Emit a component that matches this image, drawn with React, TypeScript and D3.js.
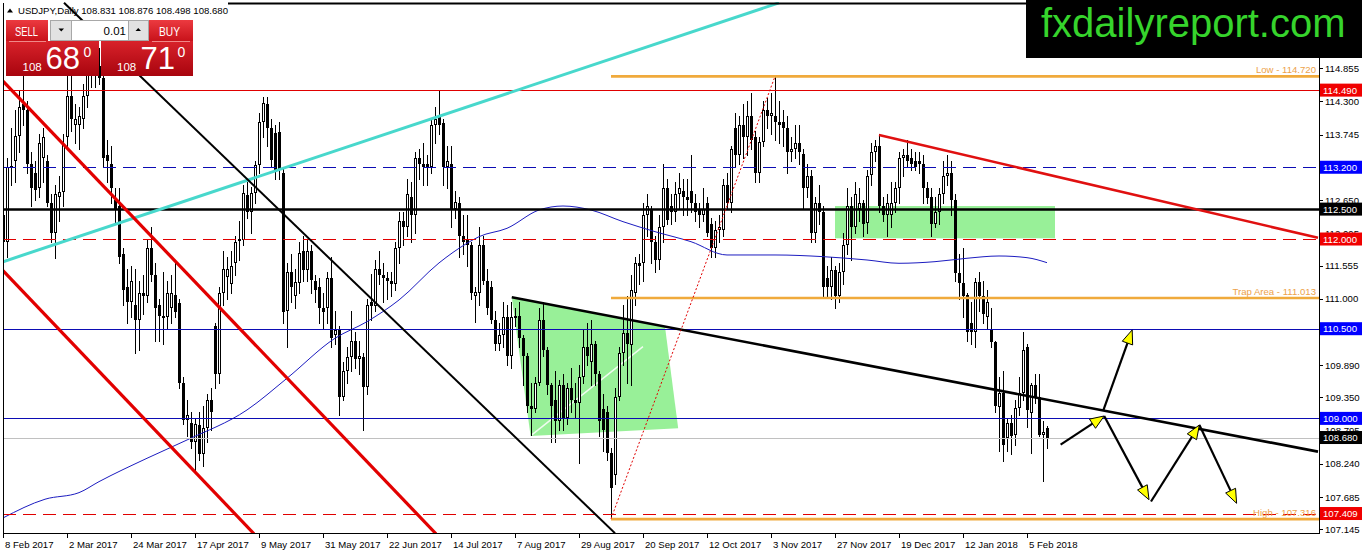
import * as d3 from "d3";

// USDJPY daily, 8 Feb 2017 (bar 0) .. 12 Feb 2018 (bar 261): [open, high, low, close]
const ohlc: [number, number, number, number][] = [
  // Feb 2017
  [112.40, 112.55, 111.58, 111.95], [111.95, 113.35, 111.70, 113.20], [113.20, 113.85, 112.90, 113.22],
  [113.30, 114.15, 112.95, 113.72], [113.72, 114.50, 113.45, 114.20], [114.25, 114.95, 113.90, 114.15],
  [114.15, 114.30, 113.10, 113.25], [113.25, 113.45, 112.55, 112.85], [113.10, 113.30, 112.65, 112.82],
  [112.85, 113.75, 112.70, 113.60], [113.35, 113.85, 112.95, 113.70], [113.30, 113.40, 112.55, 112.60],
  [112.60, 112.75, 111.95, 112.10], [112.10, 112.90, 111.68, 112.75], [112.70, 113.05, 112.30, 112.78],
  // Mar
  [112.78, 113.75, 112.55, 113.57], [113.70, 114.75, 113.50, 114.40], [114.40, 114.75, 113.80, 114.00],
  [113.90, 114.25, 113.60, 114.00], [113.90, 114.20, 113.50, 114.05], [114.00, 114.60, 113.85, 114.40],
  [114.40, 115.25, 114.20, 115.05], [115.05, 115.50, 114.55, 114.80], [114.80, 115.10, 114.55, 114.90],
  [114.90, 115.20, 114.60, 114.70], [114.70, 115.00, 113.20, 113.35], [113.40, 113.65, 112.95, 113.30],
  [113.25, 113.55, 112.60, 112.85], [112.65, 112.85, 112.25, 112.50], [112.55, 112.85, 111.60, 111.70],
  [111.75, 111.85, 110.90, 111.15], [111.20, 111.50, 110.60, 110.95], [110.95, 111.55, 110.70, 111.30],
  [110.90, 111.50, 110.10, 110.65], [110.65, 111.30, 110.15, 111.10], [111.10, 111.40, 110.75, 111.05],
  [111.05, 112.00, 110.95, 111.85], [111.85, 112.20, 111.30, 111.40],
  // Apr
  [111.40, 111.60, 110.30, 110.85], [110.90, 111.00, 110.30, 110.72], [110.72, 111.45, 110.25, 110.68],
  [110.70, 111.30, 110.50, 111.10], [110.85, 111.40, 110.60, 111.10], [111.06, 111.60, 110.70, 110.78],
  [110.93, 111.00, 109.50, 109.60], [109.60, 109.70, 108.90, 108.97], [108.97, 109.30, 108.70, 109.05],
  [108.92, 109.10, 108.50, 108.60], [108.60, 109.00, 108.13, 108.90], [108.89, 109.10, 108.30, 108.40],
  [108.40, 109.20, 108.20, 108.84], [108.84, 109.40, 108.60, 109.30], [109.30, 109.50, 108.80, 109.10],
  [110.55, 110.60, 109.50, 109.75], [109.75, 111.20, 109.60, 111.10], [111.10, 111.80, 110.90, 111.50],
  [111.36, 111.70, 111.00, 111.50], [111.25, 111.80, 111.10, 111.55],
  // May
  [111.60, 112.05, 111.40, 111.95], [111.98, 112.30, 111.65, 112.00], [111.98, 112.90, 111.90, 112.77],
  [112.73, 112.95, 112.35, 112.45], [112.45, 112.87, 112.10, 112.77], [112.77, 113.30, 112.60, 113.24],
  [113.24, 114.10, 113.10, 113.96], [113.96, 114.37, 113.70, 114.27], [114.25, 114.37, 113.55, 113.86],
  [113.86, 114.00, 113.20, 113.32], [113.77, 113.90, 113.00, 113.12], [113.79, 113.95, 113.00, 113.15],
  [113.10, 113.20, 110.60, 110.78], [110.80, 111.60, 110.20, 111.45], [111.45, 111.75, 110.95, 111.20],
  [111.05, 111.50, 110.85, 111.28], [111.27, 111.95, 111.10, 111.77], [111.80, 112.05, 111.30, 111.48],
  [111.48, 112.00, 111.30, 111.80], [111.80, 111.90, 111.10, 111.32], [111.30, 111.40, 110.95, 111.15],
  [111.20, 111.35, 110.60, 110.85], [110.85, 111.10, 110.50, 110.78],
  // Jun
  [110.85, 111.45, 110.60, 111.35], [111.35, 111.70, 110.20, 110.35], [110.40, 110.80, 110.25, 110.48],
  [110.48, 110.55, 109.06, 109.36], [109.36, 109.95, 109.30, 109.80], [109.80, 110.20, 109.60, 110.02],
  [110.02, 110.80, 109.80, 110.30], [110.30, 110.45, 109.85, 110.00], [110.00, 110.30, 109.75, 110.05],
  [110.02, 110.10, 108.80, 109.52], [109.52, 111.00, 109.40, 110.90], [110.95, 111.42, 110.65, 110.88],
  [110.88, 111.65, 110.80, 111.50], [111.50, 111.80, 111.25, 111.40], [111.40, 111.60, 110.95, 111.35],
  [111.35, 111.45, 111.00, 111.30], [111.30, 111.45, 111.05, 111.25], [111.25, 111.95, 111.15, 111.85],
  [111.85, 112.45, 111.60, 112.30], [112.30, 112.45, 111.90, 112.20], [112.20, 113.00, 112.05, 112.75],
  [112.70, 112.95, 111.95, 112.40],
  // Jul
  [112.40, 113.45, 112.10, 113.35], [113.35, 113.50, 113.00, 113.25], [113.25, 113.60, 112.90, 113.20],
  [113.25, 113.40, 112.90, 113.18], [113.20, 114.00, 113.10, 113.90], [113.90, 114.20, 113.60, 114.00],
  [114.05, 114.49, 113.75, 113.90], [113.94, 114.00, 112.90, 113.20], [113.20, 113.55, 112.85, 113.30],
  [113.25, 113.55, 112.20, 112.50], [112.50, 112.80, 112.35, 112.62], [112.60, 112.70, 111.70, 112.05],
  [112.05, 112.40, 111.75, 111.95], [112.00, 112.40, 111.55, 111.90], [111.90, 111.95, 111.00, 111.10],
  [111.05, 111.20, 110.62, 111.12], [111.10, 112.20, 110.90, 111.90], [111.90, 112.05, 111.25, 111.30],
  [111.30, 111.50, 110.75, 110.85], [111.20, 111.30, 110.60, 110.65], [110.65, 110.80, 110.15, 110.25],
  // Aug
  [110.25, 110.60, 110.15, 110.40], [110.40, 110.95, 110.20, 110.70], [110.70, 110.90, 109.90, 110.05],
  [110.05, 110.95, 109.85, 110.70], [110.70, 110.85, 110.55, 110.72], [110.72, 110.95, 110.20, 110.35],
  [110.35, 110.40, 109.55, 110.05], [110.05, 110.10, 109.10, 109.20], [109.20, 109.60, 108.73, 109.15],
  [109.15, 109.70, 109.10, 109.60], [109.60, 110.85, 109.55, 110.65], [110.65, 110.95, 110.05, 110.15],
  [110.15, 110.20, 109.40, 109.55], [109.55, 109.60, 108.60, 109.20], [109.30, 109.80, 108.60, 108.95],
  [108.95, 109.65, 108.80, 109.55], [109.55, 109.75, 108.80, 109.00], [109.00, 109.60, 108.90, 109.50],
  [109.50, 109.85, 109.10, 109.30], [109.30, 109.60, 109.00, 109.25], [109.25, 109.90, 108.26, 109.70],
  [109.70, 110.50, 109.60, 110.20], [110.20, 110.60, 109.90, 110.05],
  // Sep
  [109.95, 110.65, 109.55, 110.25], [110.25, 110.30, 109.55, 109.75], [109.75, 109.80, 108.70, 108.95],
  [109.15, 109.40, 108.45, 108.80], [109.10, 109.20, 108.30, 108.42], [108.42, 108.50, 107.32, 107.84],
  [108.05, 109.50, 107.90, 109.36], [109.36, 110.20, 109.30, 110.10], [110.10, 110.90, 109.90, 110.42],
  [110.42, 111.05, 109.60, 110.25], [110.23, 111.40, 109.55, 111.15], [111.10, 111.70, 110.90, 111.60],
  [111.60, 111.75, 111.25, 111.55], [111.60, 112.60, 111.30, 112.40], [112.40, 112.75, 112.05, 112.55],
  [112.50, 112.55, 111.60, 111.95], [111.95, 112.05, 111.45, 111.65], [111.65, 112.40, 111.50, 112.20],
  [112.20, 113.25, 111.95, 112.85], [112.85, 113.00, 112.25, 112.32], [112.55, 112.75, 112.25, 112.45],
  // Oct
  [112.45, 112.95, 112.30, 112.75], [112.75, 113.10, 112.50, 112.85], [112.80, 113.00, 112.40, 112.70],
  [112.70, 113.00, 112.40, 112.65], [112.80, 113.40, 112.45, 112.60], [112.60, 112.75, 112.30, 112.45],
  [112.50, 112.60, 112.20, 112.40], [112.40, 112.85, 112.30, 112.50], [112.60, 112.70, 112.05, 112.10],
  [112.25, 112.35, 111.70, 111.85], [111.85, 112.30, 111.70, 112.15], [112.15, 112.40, 111.95, 112.20],
  [112.15, 113.00, 112.05, 112.90], [112.90, 113.10, 112.50, 112.60], [112.60, 113.55, 112.45, 113.50],
  [113.85, 114.10, 113.20, 113.40], [113.40, 114.05, 113.25, 113.90], [113.90, 114.25, 113.35, 113.70],
  [113.70, 114.30, 113.40, 114.05], [114.05, 114.45, 113.50, 113.65], [113.70, 113.80, 112.95, 113.10],
  [113.10, 113.70, 112.95, 113.62],
  // Nov
  [113.62, 114.30, 113.55, 114.15], [114.15, 114.35, 113.85, 114.05], [114.05, 114.45, 113.75, 114.10],
  [114.05, 114.72, 113.65, 113.95], [113.95, 114.30, 113.60, 113.90], [113.95, 114.15, 113.55, 113.85],
  [113.86, 114.05, 113.10, 113.45], [113.45, 113.70, 113.30, 113.50], [113.50, 113.90, 113.35, 113.60],
  [113.60, 113.90, 113.25, 113.45], [113.43, 113.50, 112.50, 112.85], [112.85, 113.25, 112.70, 113.05],
  [113.05, 113.15, 111.95, 112.10], [112.10, 112.70, 111.95, 112.60], [112.60, 112.90, 112.25, 112.45],
  [112.45, 112.55, 111.05, 111.20], [111.35, 111.55, 111.05, 111.20], [111.20, 111.70, 111.00, 111.48],
  [111.48, 111.55, 110.84, 111.05], [111.05, 111.60, 110.95, 111.45], [111.45, 112.10, 111.25, 111.90],
  [111.90, 112.85, 111.75, 112.55],
  // Dec
  [112.55, 112.70, 111.65, 112.20], [112.20, 112.95, 112.10, 112.75], [112.50, 112.85, 112.30, 112.60],
  [112.60, 112.65, 112.05, 112.25], [112.27, 113.15, 112.10, 113.05], [113.07, 113.60, 112.90, 113.45],
  [113.45, 113.65, 113.30, 113.55], [113.55, 113.75, 112.45, 112.55], [112.55, 112.70, 112.30, 112.40],
  [112.40, 112.75, 112.05, 112.60], [112.40, 112.95, 112.20, 112.60], [112.60, 112.95, 112.45, 112.85],
  [112.85, 113.45, 112.60, 113.35], [113.35, 113.50, 113.05, 113.40], [113.40, 113.65, 113.20, 113.30],
  [113.35, 113.50, 113.15, 113.25], [113.30, 113.45, 113.15, 113.20], [113.30, 113.45, 113.10, 113.25],
  [113.25, 113.40, 112.60, 112.85], [112.85, 112.95, 112.60, 112.68],
  // Jan 2018
  [112.70, 112.85, 112.05, 112.25], [112.25, 112.70, 112.20, 112.45], [112.45, 112.85, 112.25, 112.75],
  [112.75, 113.30, 112.60, 113.05], [113.05, 113.40, 112.90, 113.10], [113.10, 113.30, 112.40, 112.65],
  [112.65, 112.75, 111.30, 111.43], [111.43, 111.75, 111.00, 111.26], [111.26, 111.85, 110.70, 111.05],
  [111.06, 111.10, 110.30, 110.45], [110.60, 110.95, 110.25, 110.45], [110.45, 111.35, 110.20, 111.28],
  [111.28, 111.45, 110.80, 111.05], [111.05, 111.30, 110.60, 110.75], [110.70, 111.15, 110.50, 110.95],
  [110.50, 110.85, 110.20, 110.27], [110.27, 110.30, 109.10, 109.20], [109.19, 109.70, 108.46, 109.42],
  [109.42, 109.80, 108.28, 108.55], [108.67, 109.00, 108.45, 108.92], [108.92, 109.05, 108.40, 108.70],
  [108.72, 109.30, 108.55, 109.17],
  // Feb 2018
  [109.17, 109.70, 109.05, 109.42], [109.42, 110.45, 109.30, 110.14], [110.19, 110.25, 108.85, 109.14],
  [109.09, 109.60, 108.42, 109.56], [109.56, 109.75, 109.25, 109.35], [109.35, 109.75, 108.70, 108.72],
  [108.72, 108.95, 107.95, 108.78], [108.831, 108.876, 108.498, 108.68],
];

// one date label every 16 bars
const dateLabels = [
  "8 Feb 2017", "2 Mar 2017", "24 Mar 2017", "17 Apr 2017", "9 May 2017", "31 May 2017",
  "22 Jun 2017", "14 Jul 2017", "7 Aug 2017", "29 Aug 2017", "20 Sep 2017", "12 Oct 2017",
  "3 Nov 2017", "27 Nov 2017", "19 Dec 2017", "12 Jan 2018", "5 Feb 2018",
];
const barsPerLabel = 16;

const priceTicks = [
  114.855, 114.3, 113.745, 113.19, 112.65, 112.095, 111.555, 111.0,
  110.445, 109.89, 109.35, 108.795, 108.24, 107.685, 107.145,
];

// moving average: [bar, price]
const movingAverage: [number, number][] = [
  [0, 107.335], [10.5, 107.648], [19, 107.758], [24, 107.942], [36, 108.333], [46, 108.639],
  [61, 109.141], [71, 109.671], [83, 110.34], [91, 110.618], [99, 110.98], [109, 111.6],
  [116, 111.929], [119, 112.039], [126, 112.179], [134, 112.485], [140, 112.552], [147, 112.485],
  [155, 112.29], [163, 112.123], [172, 111.955], [181, 111.733], [193, 111.733], [205, 111.705],
  [216, 111.649], [224, 111.594], [233, 111.621], [241, 111.678], [249, 111.716], [256, 111.688],
  [261, 111.604],
];

// horizontal levels
const solidRedLevels = [114.49];
const dashedRedLevels = [112.0, 107.409];
const dashedBlueLevels = [113.2];
const solidBlueLevels = [110.5, 109.0];
const blackLevels = [112.5];
const currentPrice = 108.68;
const orangeLevels = [
  { price: 114.72, fromBar: 152, label: "Low - 114.720" },
  { price: 111.013, fromBar: 152, label: "Trap Area - 111.013" },
  { price: 107.316, fromBar: 152, label: "High - 107.316" },
];

// drawn objects: [bar, price] anchors
const cyanTrend: [number, number][] = [[0, 111.62], [194, 115.95]];
const redChannel: [number, number][][] = [
  [[0, 114.64], [108.25, 107.07]],
  [[0, 111.47], [62.75, 107.07]],
];
const blackFalling: [number, number][] = [[15.25, 115.95], [153, 107.08]];
const blackResistance: [number, number][] = [[127.2, 111.026], [328.75, 108.444]];
const redResistance: [number, number][] = [[219, 113.74], [328.75, 112.02]];
const swingLine: [number, number][] = [[152, 107.32], [193, 114.72]];
const flagZone: [number, number][] = [[127.2, 111.026], [165.5, 110.534], [168.8, 108.835], [131.9, 108.706]];
const flagMidline: [number, number][] = [[132.2, 108.723], [160, 110.2]];
const rangeZone = { fromBar: 208, toBar: 263, top: 112.552, bottom: 112.012 };
const forecastArrows: [number, number][][] = [
  [[264.4, 108.56], [275.3, 109.04]],
  [[275.1, 109.14], [282.3, 110.48]],
  [[275.3, 109.04], [286.5, 107.64]],
  [[287.0, 107.61], [299.1, 108.89]],
  [[299.1, 108.89], [308.4, 107.58]],
];

const FONT = "'Liberation Sans', Arial, sans-serif";
const NAVY = "#0c0cb4";

export default function App() {
  const x = d3.scaleLinear().domain([0, 329]).range([3, 1319]);
  const y = d3.scaleLinear().domain([107.145, 114.855]).range([529.3, 68.3]);
  const seg = (p: [number, number][]) => d3.line<[number, number]>().x((d) => x(d[0])).y((d) => y(d[1]))(p) || "";
  const maPath = d3.line<[number, number]>().x((d) => x(d[0])).y((d) => y(d[1])).curve(d3.curveMonotoneX)(movingAverage) || "";

  const hLine = (p: number, color: string, w: number, dash?: string, key?: string) => (
    <line key={key ?? p} x1={3} x2={1319} y1={Math.round(y(p)) + 0.5} y2={Math.round(y(p)) + 0.5}
      stroke={color} strokeWidth={w} strokeDasharray={dash} />
  );

  const arrow = (a: [number, number][], i: number) => {
    const x1 = x(a[0][0]), y1 = y(a[0][1]), x2 = x(a[1][0]), y2 = y(a[1][1]);
    const len = Math.hypot(x2 - x1, y2 - y1);
    const ux = (x2 - x1) / len, uy = (y2 - y1) / len;
    const bx = x2 - ux * 14, by = y2 - uy * 14;
    const pts = [[x2, y2], [bx - uy * 5.5, by + ux * 5.5], [bx + uy * 5.5, by - ux * 5.5]];
    return (
      <g key={"ar" + i}>
        <line x1={x1} y1={y1} x2={bx} y2={by} stroke="#000" strokeWidth={2.2} />
        <polygon points={pts.map((p) => p.join(",")).join(" ")} fill="#ffff00" stroke="#000" strokeWidth={1} />
      </g>
    );
  };

  const axisBox = (p: number, bg: string) => (
    <g key={"box" + p}>
      <rect x={1320} y={y(p) - 6.5} width={42} height={13} fill={bg} />
      <text x={1323} y={y(p) + 3.5} fontSize={9.6} fill="#fff">{p.toFixed(3)}</text>
    </g>
  );

  return (
    <svg width={1362} height={554} style={{ position: "absolute", left: 0, top: 0, background: "#fff" }} fontFamily={FONT}>
      <defs>
        <clipPath id="plot"><rect x={3} y={2} width={1316} height={531} /></clipPath>
        <linearGradient id="btn" x1="0" y1="0" x2="0" y2="1">
          <stop offset="0" stopColor="#ec3a40" />
          <stop offset="1" stopColor="#c8121a" />
        </linearGradient>
        <linearGradient id="px" x1="0" y1="0" x2="0" y2="1">
          <stop offset="0" stopColor="#d8222a" />
          <stop offset="1" stopColor="#a8040e" />
        </linearGradient>
      </defs>
      <rect x={0} y={0} width={1362} height={554} fill="#fff" />

      <g clipPath="url(#plot)">
        {/* zones */}
        <polygon points={flagZone.map((d) => `${x(d[0])},${y(d[1])}`).join(" ")} fill="#98f098" />
        <rect x={x(rangeZone.fromBar)} y={y(rangeZone.top)} width={x(rangeZone.toBar) - x(rangeZone.fromBar)}
          height={y(rangeZone.bottom) - y(rangeZone.top)} fill="#98f098" />
        <path d={seg(flagMidline)} stroke="#fff" strokeWidth={1.5} opacity={0.85} />

        {/* candles */}
        <g shapeRendering="crispEdges">
          {ohlc.map(([o, h, l, c], i) => {
            const cx = Math.round(x(i));
            const top = Math.round(y(Math.max(o, c)));
            const bot = Math.max(Math.round(y(Math.min(o, c))), top + 1);
            const bull = c > o;
            return (
              <g key={i}>
                <line x1={cx + 0.5} x2={cx + 0.5} y1={Math.round(y(h))} y2={Math.round(y(l)) + 1} stroke="#000" strokeWidth={1} />
                {bull ? (
                  <rect x={cx - 0.5} y={top + 0.5} width={2} height={Math.max(bot - top - 1, 1)} fill="#fff" stroke="#000" strokeWidth={1} />
                ) : (
                  <rect x={cx - 1} y={top} width={3} height={bot - top} fill="#000" />
                )}
              </g>
            );
          })}
        </g>

        <path d={maPath} fill="none" stroke="#1c1cc0" strokeWidth={1} />

        {/* levels */}
        {hLine(currentPrice, "#c0c0c0", 1, undefined, "cur")}
        {solidRedLevels.map((p) => hLine(p, "#e00000", 1))}
        {dashedRedLevels.map((p) => hLine(p, "#e00000", 1, "13,7"))}
        {dashedBlueLevels.map((p) => hLine(p, NAVY, 1.2, "13,7"))}
        {solidBlueLevels.map((p) => hLine(p, NAVY, 1.2))}
        {blackLevels.map((p) => hLine(p, "#000", 2.5))}
        {orangeLevels.map((o) => (
          <g key={o.label}>
            <line x1={x(o.fromBar)} x2={1319} y1={y(o.price)} y2={y(o.price)} stroke="#f0aa3c" strokeWidth={2.6} />
            <text x={1316} y={y(o.price) - 3} textAnchor="end" fontSize={9.6} fill="#eda24a">{o.label}</text>
          </g>
        ))}

        {/* trend lines */}
        <path d={seg(cyanTrend)} stroke="#48d8cc" strokeWidth={3} />
        {redChannel.map((l, i) => <path key={"rc" + i} d={seg(l)} stroke="#e20000" strokeWidth={3.2} />)}
        <path d={seg(blackFalling)} stroke="#000" strokeWidth={2} />
        <path d={seg(blackResistance)} stroke="#000" strokeWidth={2.6} />
        <path d={seg(redResistance)} stroke="#e01010" strokeWidth={2.6} />
        <path d={seg(swingLine)} stroke="#e00000" strokeWidth={1} strokeDasharray="2,2" />

        {forecastArrows.map(arrow)}
      </g>

      {/* frame */}
      <line x1={228} x2={1026} y1={3.5} y2={3.5} stroke="#000" strokeWidth={2} />
      <line x1={3.5} x2={3.5} y1={3} y2={533} stroke="#000" strokeWidth={1} />
      <line x1={3} x2={1320} y1={533.5} y2={533.5} stroke="#000" strokeWidth={1} />
      <line x1={1319.5} x2={1319.5} y1={58} y2={534} stroke="#000" strokeWidth={1} />

      {/* price axis */}
      {priceTicks.map((p) => (
        <g key={"t" + p}>
          <line x1={1319} x2={1323} y1={Math.round(y(p)) + 0.5} y2={Math.round(y(p)) + 0.5} stroke="#000" />
          <text x={1325} y={y(p) + 3.5} fontSize={9.6} fill="#000">{p.toFixed(3)}</text>
        </g>
      ))}
      {solidRedLevels.map((p) => axisBox(p, "#f00000"))}
      {dashedBlueLevels.map((p) => axisBox(p, "#0000ff"))}
      {blackLevels.map((p) => axisBox(p, "#000"))}
      {dashedRedLevels.map((p) => axisBox(p, "#f00000"))}
      {solidBlueLevels.map((p) => axisBox(p, "#0000ff"))}
      {axisBox(currentPrice, "#000")}

      {/* date axis */}
      {dateLabels.map((d, k) => {
        const tx = Math.round(x(k * barsPerLabel)) + 0.5;
        return (
          <g key={d}>
            <line x1={tx} x2={tx} y1={533} y2={538} stroke="#000" />
            <text x={tx + 1.5} y={547.5} fontSize={9.6} fill="#000">{d}</text>
          </g>
        );
      })}

      {/* header */}
      <polygon points="7,12.5 13,12.5 10,8.5" fill="#000" />
      <text x={18} y={14} fontSize={9.6} fill="#000">USDJPY,Daily  108.831 108.876 108.498 108.680</text>

      {/* one-click trading panel */}
      <g>
        <rect x={6} y={20} width={42} height={21} fill="url(#btn)" />
        <text x={15} y={36} fontSize={12.5} fill="#fff" textLength={23} lengthAdjust="spacingAndGlyphs">SELL</text>
        <rect x={149} y={20} width={44} height={21} fill="url(#btn)" />
        <text x={159} y={36} fontSize={12.5} fill="#fff" textLength={21} lengthAdjust="spacingAndGlyphs">BUY</text>
        <rect x={50.5} y={20.5} width={21} height={20} fill="#e2e2e2" stroke="#a8a8a8" />
        <polygon points="58.5,28.5 64,28.5 61.25,31.5" fill="#000" />
        <rect x={71.5} y={20.5} width={57} height={20} fill="#fff" stroke="#a8a8a8" />
        <text x={126} y={35} fontSize={11.5} textAnchor="end" fill="#000">0.01</text>
        <rect x={128.5} y={20.5} width={20} height={20} fill="#e2e2e2" stroke="#a8a8a8" />
        <polygon points="135.5,31 141,31 138.25,28" fill="#000" />
        <rect x={6} y={41} width={93} height={35} fill="url(#px)" />
        <rect x={101} y={41} width={92} height={35} fill="url(#px)" />
        <line x1={9} x2={46} y1={41.5} y2={41.5} stroke="#f08888" />
        <line x1={152} x2={190} y1={41.5} y2={41.5} stroke="#f08888" />
        <text x={22.5} y={70.5} fontSize={11.5} fill="#fff">108</text>
        <text x={45.5} y={68.5} fontSize={31} fill="#fff">68</text>
        <text x={83.5} y={57} fontSize={14} fill="#fff">0</text>
        <text x={117} y={70.5} fontSize={11.5} fill="#fff">108</text>
        <text x={140.5} y={68.5} fontSize={31} fill="#fff">71</text>
        <text x={177.5} y={57} fontSize={14} fill="#fff">0</text>
      </g>

      {/* logo */}
      <rect x={1026} y={0} width={336} height={58} fill="#000" />
      <text x={1041} y={37} fontSize={40} fill="#36d42c">fxdailyreport.com</text>
    </svg>
  );
}
